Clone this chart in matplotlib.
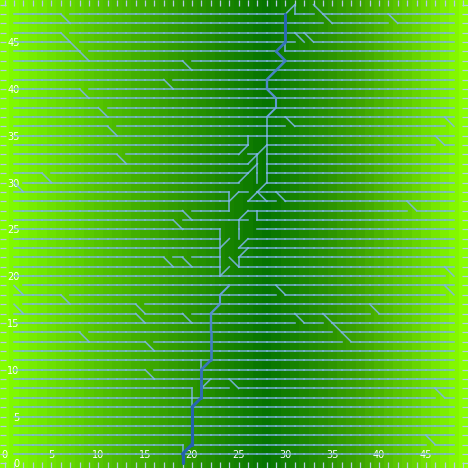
import numpy as np
import matplotlib
matplotlib.use("Agg")
import matplotlib.pyplot as plt
from matplotlib.collections import LineCollection
from matplotlib.colors import LinearSegmentedColormap, to_rgb

# ---------------- data ----------------
ROW_Y = list(range(1, 49))          # rows that carry a horizontal line
ROW_X0, ROW_X1 = 1, 48              # first / last node of every row

# "\" steps left of the valley: (x, y) joins (x, y)-(x+1, y-1), row y broken at x
LEFT_STEPS = [(6, 48), (6, 46), (7, 45), (8, 44), (19, 43), (17, 41), (8, 40),
              (10, 38), (11, 36), (12, 33), (4, 31), (1, 30), (19, 27), (18, 26),
              (17, 22), (19, 22), (1, 19), (6, 18), (1, 17), (14, 17), (14, 16),
              (19, 16), (8, 14), (15, 13), (15, 10)]

# "\" steps right of the valley: (x, y) joins (x, y)-(x+1, y-1), row y-1 broken at x
RIGHT_STEPS = [(33, 49), (34, 48), (41, 48), (31, 46), (32, 46), (30, 37), (47, 37),
               (46, 35), (29, 29), (43, 28), (47, 21), (29, 19), (47, 19), (39, 17),
               (31, 16), (34, 16), (35, 15), (36, 14), (46, 8), (24, 9), (45, 3)]

# other light links near the valley (x1, y1, x2, y2)
LINKS = [(30, 48, 31, 49), (31, 49, 31, 48), (30, 45, 30, 44),
         (28, 37, 28, 36), (28, 36, 28, 35), (28, 35, 28, 34), (28, 34, 28, 33),
         (28, 33, 28, 32), (28, 32, 28, 31), (28, 31, 28, 30),
         (27, 30, 27, 31), (27, 31, 27, 32), (27, 32, 27, 33),
         (26, 34, 26, 35), (25, 33, 26, 34), (27, 33, 28, 34), (26, 32, 27, 33),
         (26, 31, 27, 32), (25, 30, 26, 31), (27, 29, 28, 30), (26, 28, 27, 29),
         (27, 29, 28, 28), (24, 27, 24, 28), (24, 28, 24, 29), (25, 29, 24, 28),
         (27, 26, 27, 27), (25, 24, 25, 25), (25, 25, 25, 26), (25, 23, 26, 24),
         (23, 23, 24, 24), (23, 21, 23, 22), (23, 22, 23, 23), (23, 23, 23, 24),
         (23, 24, 23, 25), (23, 20, 23, 21), (25, 21, 25, 22), (25, 22, 26, 23),
         (24, 22, 25, 21), (23, 20, 24, 21), (25, 26, 26, 27),
         (20, 8, 20, 7), (20, 7, 20, 6), (19, 2, 19, 1),
         (21, 8, 22, 9), (21, 10, 21, 11)]
# extra row breaks (x, y): edge (x, y)-(x+1, y) absent
BREAKS = [(30, 48), (29, 44), (20, 8), (19, 2),
          (26, 34), (27, 34), (25, 33), (27, 33), (26, 32), (27, 32), (26, 31),
          (27, 31), (25, 30), (26, 30), (27, 30), (24, 29), (26, 29),
          (24, 28), (25, 28), (24, 27), (25, 27), (26, 26),
          (23, 25), (24, 25), (25, 25), (26, 25), (23, 24), (24, 24), (25, 24),
          (23, 23), (24, 23), (23, 22), (24, 22), (23, 21), (24, 21)]

# darker trunks: (x, y, strength) from the darkest end outward
TRUNK_LOW_X = [19, 19, 20, 20, 20, 20, 20, 21, 21, 21, 21, 22, 22, 22, 22, 22, 22, 23, 23, 24]
TRUNK_LOW_Y = [0, 1, 2, 3, 4, 5, 6, 7, 8, 9, 10, 11, 12, 13, 14, 15, 16, 17, 18, 19]
TRUNK_LOW_S = [1.0, 1.0, 0.95, 0.9, 0.9, 0.85, 0.85, 0.8, 0.75, 0.75, 0.7, 0.65, 0.6,
               0.6, 0.55, 0.5, 0.45, 0.35, 0.25, 0.15]
TRUNK_TOP_X = [30, 30, 30, 30, 29, 30, 29, 28, 28, 29, 29, 28]
TRUNK_TOP_Y = [48, 47, 46, 45, 44, 43, 42, 41, 40, 39, 38, 37]
TRUNK_TOP_S = [0.85, 0.85, 0.8, 0.75, 0.65, 0.6, 0.55, 0.5, 0.45, 0.35, 0.25, 0.1]

# background level anchors (column position, colour)
BG_POS = [0, 10, 20, 28, 38, 49]
BG_COL = ["#84ff00", "#55c400", "#2a9400", "#067400", "#3ea400", "#8aff00"]

LIGHT = "#80b6ea"
DARK = "#2461ad"

# ---------------- drawing ----------------
fig = plt.figure(figsize=(4.68, 4.68), dpi=100)
ax = fig.add_axes([0, 0, 1, 1])

cmap = LinearSegmentedColormap.from_list(
    "bg", [(p / BG_POS[-1], c) for p, c in zip(BG_POS, BG_COL)])
cols = np.arange(0, 50)
bg = np.tile(cols / 49.0, (50, 1))
ax.imshow(bg, cmap=cmap, vmin=0, vmax=1, origin="lower", extent=(-0.5, 49.5, -0.5, 49.5),
          interpolation="nearest", aspect="auto", zorder=0)

gaps = set()
segs = []
for x, y in LEFT_STEPS:
    gaps.add((x, y))
    segs.append([(x, y), (x + 1, y - 1)])
for x, y in RIGHT_STEPS:
    gaps.add((x, y - 1))
    segs.append([(x, y), (x + 1, y - 1)])
for x, y in BREAKS:
    gaps.add((x, y))
for x1, y1, x2, y2 in LINKS:
    segs.append([(x1, y1), (x2, y2)])
for y in ROW_Y:
    for x in range(ROW_X0, ROW_X1):
        if (x, y) not in gaps:
            segs.append([(x, y), (x + 1, y)])

lc = LineCollection(segs, colors=LIGHT, linewidths=1.15, alpha=0.85,
                    capstyle="projecting", zorder=2)
ax.add_collection(lc)

lt, dk = np.array(to_rgb(LIGHT)), np.array(to_rgb(DARK))
for tx, ty, ts in ((TRUNK_LOW_X, TRUNK_LOW_Y, TRUNK_LOW_S),
                   (TRUNK_TOP_X, TRUNK_TOP_Y, TRUNK_TOP_S)):
    tsegs, tcols, twid = [], [], []
    for i in range(len(tx) - 1):
        s = 0.5 * (ts[i] + ts[i + 1])
        tsegs.append([(tx[i], ty[i]), (tx[i + 1], ty[i + 1])])
        tcols.append(tuple(lt + (dk - lt) * min(1.0, s * 1.15)))
        twid.append(1.15 + 1.2 * s)
    ax.add_collection(LineCollection(tsegs, colors=tcols, linewidths=twid,
                                     capstyle="round", zorder=3))

ax.set_xlim(-0.5, 49.5)
ax.set_ylim(-0.5, 49.5)
ax.set_xticks(range(0, 50, 5))
ax.set_yticks(range(0, 50, 5))
ax.set_xticks(range(0, 50), minor=True)
ax.set_yticks(range(0, 50), minor=True)
ax.tick_params(which="both", direction="in", length=4, width=0.9, color="#b4cbe4",
               top=True, right=True, labelcolor="white", labelsize=7)
ax.tick_params(axis="x", which="major", pad=-13)
ax.tick_params(axis="y", which="major", pad=-14)
for s in ax.spines.values():
    s.set_visible(False)

fig.savefig("out.png", dpi=100)
